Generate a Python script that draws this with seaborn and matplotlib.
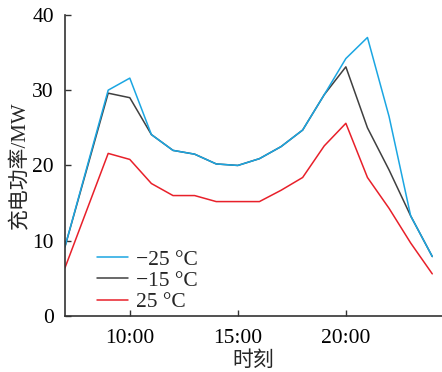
import numpy as np
import pandas as pd
import matplotlib
matplotlib.use("Agg")
import matplotlib.pyplot as plt
import seaborn as sns

hours = [7, 9, 10, 11, 12, 13, 14, 15, 16, 17, 18, 19, 20, 21, 22, 23, 24]
p_m25 = [9.2, 30.0, 31.6, 24.1, 22.0, 21.5, 20.2, 20.0, 20.9, 22.5, 24.7, 29.4, 34.2, 37.0, 26.5, 13.3, 7.9]
p_m15 = [9.2, 29.6, 29.0, 24.1, 22.0, 21.5, 20.2, 20.0, 20.9, 22.5, 24.7, 29.4, 33.1, 25.0, 19.4, 13.3, 7.9]
p_25 = [6.4, 21.6, 20.8, 17.6, 16.0, 16.0, 15.2, 15.2, 15.2, 16.7, 18.4, 22.6, 25.6, 18.4, 14.3, 9.7, 5.6]
series_names = ["\u221225 \u00b0C", "\u221215 \u00b0C", "25 \u00b0C"]
tick_hours = [10, 15, 20]
tick_labels = ["10:00", "15:00", "20:00"]

sns.set_theme(style="ticks")
plt.rcParams['font.family'] = ['Liberation Serif', 'Noto Sans CJK SC', 'DejaVu Sans']

df = pd.DataFrame({
    "hour": hours * 3,
    "power": p_m25 + p_m15 + p_25,
    "series": [series_names[0]] * len(hours) + [series_names[1]] * len(hours) + [series_names[2]] * len(hours),
})

fig = plt.figure(figsize=(4.42, 3.72), dpi=100)
ax = fig.add_axes([0.147, 0.1505, 0.853, 0.8095])
palette = {series_names[0]: "#1BA6E2", series_names[1]: "#404040", series_names[2]: "#E8202A"}
draw_order = [series_names[2], series_names[1], series_names[0]]
sns.lineplot(data=df, x="hour", y="power", hue="series", hue_order=draw_order,
             palette=palette, linewidth=1.1, ax=ax, legend=True)

ax.set_xlim(7, 24.45)
ax.set_ylim(0, 40)
ax.set_yticks([0, 10, 20, 30, 40])
ax.set_xticks(tick_hours)
ax.set_xticklabels(tick_labels)
ax.tick_params(direction="in", labelsize=15.5, length=4, width=1, colors="#333333", labelcolor="black")
ax.tick_params(axis="y", pad=8)
ax.tick_params(axis="x", pad=9)
for s in ["top", "right"]:
    ax.spines[s].set_visible(False)
for s in ["left", "bottom"]:
    ax.spines[s].set_linewidth(1.2)
    ax.spines[s].set_color("#333333")
ax.set_xlabel("时刻", fontsize=15, labelpad=3)
ax.set_ylabel("充电功率/MW", fontsize=15, labelpad=2)

handles, labels = ax.get_legend_handles_labels()
hmap = dict(zip(labels, handles))
leg = ax.legend([hmap[n] for n in series_names], series_names,
                loc="lower left", bbox_to_anchor=(0.051, -0.03), frameon=False, fontsize=15.5,
                handlelength=1.43, handletextpad=0.38, labelspacing=0.05, borderaxespad=0.2)

fig.savefig("out.png", dpi=100)
